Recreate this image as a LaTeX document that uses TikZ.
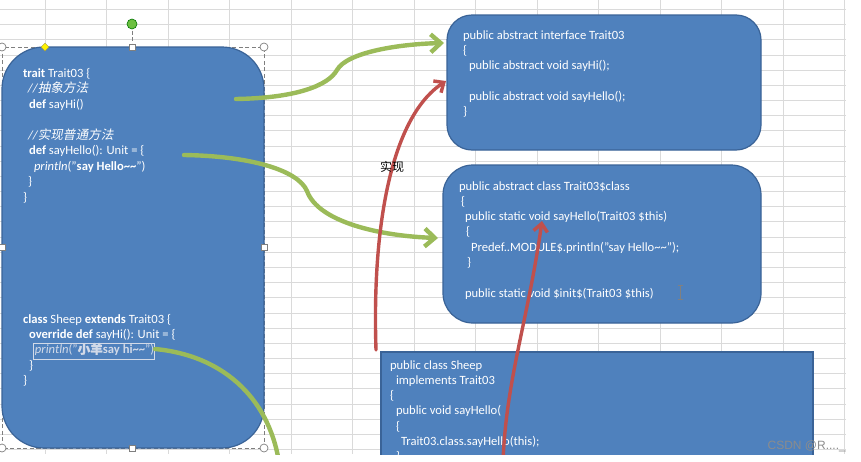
\documentclass[tikz,border=0pt]{standalone}
\usepackage{fontspec}
\setmainfont{Carlito}
\newfontfamily\cjk{Noto Sans CJK SC}
\newfontfamily\cjkit[FakeSlant=0.2]{Noto Sans CJK SC}
\newfontfamily\cjkb[FakeBold=1.5]{Noto Sans CJK SC}
\newfontfamily\wmfont{Liberation Sans}
\usetikzlibrary{arrows.meta,shapes.geometric}
\definecolor{boxblue}{HTML}{4F81BD}
\definecolor{boxedge}{HTML}{3A6397}
\definecolor{arrgreen}{HTML}{9BBB59}
\definecolor{arrred}{HTML}{C0504D}
\definecolor{gridgray}{HTML}{DADADA}
\definecolor{handlegray}{HTML}{7F7F7F}
\definecolor{dimtext}{HTML}{D2DAE8}
\definecolor{rotgreen}{HTML}{6CC040}
\definecolor{wmgray}{HTML}{8C8C8C}
\tikzset{
  gridline/.style={draw=gridgray, line width=0.8pt},
  codebox/.style={draw=boxedge, fill=boxblue, line width=1.2pt, inner sep=0pt, outer sep=0pt},
  codetext/.style={text=white, anchor=base west, inner sep=0pt, outer sep=0pt},
  greenarrow/.style={draw=arrgreen, line width=4.4pt, line cap=round,
     -{Straight Barb[length=10pt,width=18pt,line width=4.4pt]}},
  greenline/.style={draw=arrgreen, line width=4.4pt, line cap=round},
  redarrow/.style={draw=arrred, line width=3.4pt, line cap=round,
     -{Straight Barb[length=8pt,width=14pt,line width=3.4pt]}},
  selframe/.style={draw=handlegray, line width=0.7pt, dash pattern=on 4pt off 2.5pt},
  cornerhandle/.style={circle, draw=handlegray, fill=white, line width=0.7pt, minimum size=8pt, inner sep=0pt},
  sidehandle/.style={rectangle, draw=handlegray, fill=white, line width=0.7pt, minimum size=6pt, inner sep=0pt},
}
\newcommand\codefont{\fontsize{12.6pt}{15.3pt}\selectfont}
\newcommand\tld{\textasciitilde}
\begin{document}
\begin{tikzpicture}[x=1pt,y=-1pt]
\useasboundingbox (0,0) rectangle (861,461);
\fill[white] (0,0) rectangle (861,461);
\begin{scope}
\clip (0,0) rectangle (846,454);
% grid
\foreach \i in {0,...,13} \draw[gridline] ({45+61.5*\i},0) -- ({45+61.5*\i},454);
\foreach \j in {0,...,29} \draw[gridline] (0,{9.5+15.17*\j}) -- (846,{9.5+15.17*\j});

% selection frame of the left shape
\draw[selframe] (2,47) rectangle (264,448);
\draw[selframe] (132,24) -- (132,47);

% boxes
\node[codebox, rounded corners=42pt, minimum width=262pt, minimum height=401pt] (trait) at (133,247.5) {};
\node[codebox, rounded corners=25pt, minimum width=314pt, minimum height=135pt] (iface) at (604,82.5) {};
\node[codebox, rounded corners=30pt, minimum width=318pt, minimum height=158pt] (tclass) at (602,244) {};
\node[codebox, minimum width=432pt, minimum height=130pt] (sheep) at (597,417) {};

% texts
\node[codetext, font=\fontsize{12.6pt}{15.5pt}\selectfont] (traittext) at (23,77) {\begin{tabular}[t]{@{}l@{}}
\textbf{trait} Trait03 \{\\
\hspace{5pt}\textit{//{\cjkit 抽象方法}}\\
\hspace{6pt}\textbf{def} sayHi()\\
\\
\hspace{5pt}\textit{//{\cjkit 实现普通方法}}\\
\hspace{6pt}\textbf{def} sayHello(): Unit = \{\\
\hspace{11pt}\textit{println}("\textbf{say Hello\tld\tld}")\\
\hspace{5pt}\}\\
\}
\end{tabular}};

\node[codetext, font=\codefont] (sheeptext) at (23,323) {\begin{tabular}[t]{@{}l@{}}
\textbf{class} Sheep \textbf{extends} Trait03 \{\\
\hspace{6pt}\textbf{override def} sayHi(): Unit = \{\\
\hspace{12pt}\textcolor{dimtext}{\textit{println}("\textbf{{\cjkb 小羊}say hi\tld\tld}")}\\
\hspace{6pt}\}\\
\}
\end{tabular}};
\node[draw=dimtext, line width=0.6pt, inner sep=0pt, minimum width=121pt, minimum height=16pt] (selbox) at (93.5,351) {};

\node[codetext, font=\codefont] (ifacetext) at (463,39) {\begin{tabular}[t]{@{}l@{}}
public abstract interface Trait03\\
\{\\
\hspace{6pt}public abstract void sayHi();\\
\\
\hspace{6pt}public abstract void sayHello();\\
\}
\end{tabular}};

\node[codetext, font=\codefont] (tclasstext) at (459,190) {\begin{tabular}[t]{@{}l@{}}
public abstract class Trait03\$class\\
\hspace{2pt}\{\\
\hspace{6pt}public static void sayHello(Trait03 \$this)\\
\hspace{7pt}\{\\
\hspace{12pt}Predef..MODULE\$.println("say Hello\tld\tld");\\
\hspace{8pt}\}\\
\\
\hspace{6pt}public static void \$init\$(Trait03 \$this)
\end{tabular}};

\node[codetext, font=\codefont] (sheepjava) at (390,369) {\begin{tabular}[t]{@{}l@{}}
public class Sheep\\
\hspace{6pt}implements Trait03\\
\{\\
\hspace{6pt}public void sayHello(\\
\hspace{6pt}\{\\
\hspace{11pt}Trait03.class.sayHello(this);\\
\hspace{6pt}\}
\end{tabular}};

% text cursor
\draw[gray, line width=0.8pt] (680,285) -- (680,299) (677.5,285) -- (682.5,285) (677.5,299) -- (682.5,299);

% arrow end points
\coordinate (g1s) at (236,99);
\coordinate (g1e) at (444,43);
\coordinate (g2s) at (184,155);
\coordinate (g2e) at (438,238);
\coordinate (g3s) at (155,349);
\coordinate (g3e) at (279,462);
\coordinate (r1s) at (376,350);
\coordinate (r1e) at (446,81);
\coordinate (r2s) at (503,462);
\coordinate (r2e) at (542,221);

% green arrows
\draw[greenarrow] (g1s) .. controls (295,98) and (328,86) .. (337,70) .. controls (347,52) and (400,44) .. (g1e);
\draw[greenarrow] (g2s) .. controls (250,156) and (298,170) .. (307,191) .. controls (318,222) and (380,236) .. (g2e);
\draw[greenline] (g3s) .. controls (220,355) and (268,395) .. (g3e);

% red arrows
\draw[redarrow] (r1s) .. controls (372,230) and (390,118) .. (r1e);
\draw[redarrow] (r2s) .. controls (506,380) and (528,320) .. (r2e);

\node[font=\cjk\fontsize{12pt}{14pt}\selectfont, text=black, inner sep=0pt] (impl) at (392,167) {实现};

% handles
\node[cornerhandle] (hnw) at (2,47) {};
\node[cornerhandle] (hne) at (264,47) {};
\node[cornerhandle] (hsw) at (2,448) {};
\node[cornerhandle] (hse) at (264,448) {};
\node[sidehandle] (hn) at (132,47) {};
\node[sidehandle] (hs) at (132,448) {};
\node[sidehandle] (hw) at (2,247.5) {};
\node[sidehandle] (he) at (264,247.5) {};
\node[diamond, draw=yellow!60!black, fill=yellow, line width=0.5pt, minimum size=8pt, inner sep=0pt] (hadj) at (45,47) {};
\node[circle, draw=green!45!black, fill=rotgreen, line width=0.6pt, minimum size=10pt, inner sep=0pt] (hrot) at (132,24) {};

% watermark
\node[anchor=base east, font=\wmfont\fontsize{12pt}{14pt}\selectfont, text=wmgray, inner sep=0pt] (wm) at (846,449) {CSDN @R....\_};
\end{scope}
\end{tikzpicture}
\end{document}
